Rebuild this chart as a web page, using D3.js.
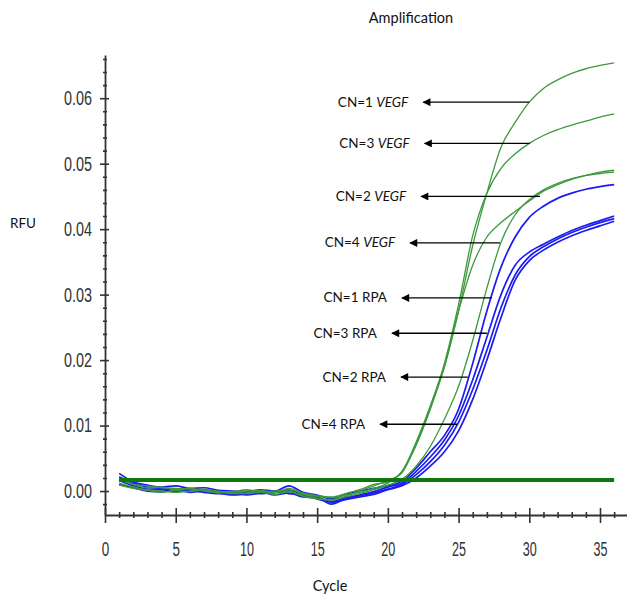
<!DOCTYPE html>
<html>
<head>
<meta charset="utf-8">
<script src="https://cdn.jsdelivr.net/npm/d3@7/dist/d3.min.js"></script>
<style>
  body { margin: 0; background: #fff; }
  .tick text { font-family: "Liberation Sans", Arial, sans-serif; }
</style>
</head>
<body>
<div id="chart"></div>
<script>
// cycle numbers (x categories)
var cycles = [1, 2, 3, 4, 5, 6, 7, 8, 9, 10, 11, 12, 13, 14, 15, 16, 17, 18,
              19, 20, 21, 22, 23, 24, 25, 26, 27, 28, 29, 30, 31, 32, 33, 34, 35, 36];

// RFU, one value per cycle
var vegfCN1 = [0.0018, 0.0010, 0.0008, 0.0005, 0.0004, 0.0003, 0.0002, 0.0000, -0.0002, 0.0000,
               0.0001, -0.0002, -0.0001, -0.0006, -0.0008, -0.0010, -0.0006, -0.0002, 0.0004, 0.0012,
               0.0030, 0.0070, 0.0125, 0.0190, 0.0275, 0.0375, 0.0455, 0.0525, 0.0563, 0.0594,
               0.0615, 0.0628, 0.0638, 0.0645, 0.0650, 0.0654];
var vegfCN3 = [0.0020, 0.0010, 0.0005, 0.0006, 0.0002, 0.0004, 0.0000, -0.0002, -0.0001, 0.0002,
               -0.0001, 0.0000, 0.0002, -0.0003, -0.0007, -0.0009, -0.0004, 0.0002, 0.0010, 0.0014,
               0.0030, 0.0075, 0.0130, 0.0195, 0.0285, 0.0390, 0.0455, 0.0493, 0.0515, 0.0531,
               0.0543, 0.0552, 0.0559, 0.0565, 0.0571, 0.0576];
var vegfCN2 = [0.0012, 0.0006, 0.0002, 0.0000, -0.0002, 0.0000, 0.0003, -0.0001, -0.0004, -0.0003,
               0.0000, -0.0003, 0.0004, -0.0004, -0.0011, -0.0013, -0.0008, 0.0000, 0.0008, 0.0016,
               0.0028, 0.0072, 0.0128, 0.0190, 0.0275, 0.0345, 0.0388, 0.0410, 0.0427, 0.0443,
               0.0458, 0.0468, 0.0476, 0.0482, 0.0487, 0.0490];
var vegfCN4 = [0.0009, 0.0004, 0.0001, -0.0002, 0.0001, -0.0001, 0.0002, -0.0003, -0.0002, -0.0004,
               -0.0002, -0.0005, -0.0001, -0.0008, -0.0012, -0.0014, -0.0009, -0.0004, 0.0002, 0.0009,
               0.0018, 0.0038, 0.0068, 0.0110, 0.0160, 0.0230, 0.0310, 0.0380, 0.0422, 0.0445,
               0.0460, 0.0470, 0.0477, 0.0482, 0.0485, 0.0487];
var rpaCN1 = [0.0027, 0.0014, 0.0009, 0.0006, 0.0008, 0.0004, 0.0005, 0.0001, 0.0000, -0.0001,
              0.0002, 0.0000, 0.0008, -0.0002, -0.0006, -0.0012, -0.0005, 0.0000, 0.0004, 0.0008,
              0.0015, 0.0035, 0.0060, 0.0085, 0.0125, 0.0195, 0.0275, 0.0342, 0.0388, 0.0418,
              0.0435, 0.0447, 0.0455, 0.0461, 0.0465, 0.0468];
var rpaCN3 = [0.0016, 0.0008, 0.0003, 0.0002, -0.0001, 0.0003, 0.0001, -0.0003, -0.0006, -0.0004,
              -0.0001, -0.0006, -0.0003, -0.0009, -0.0010, -0.0016, -0.0010, -0.0006, -0.0001, 0.0006,
              0.0012, 0.0030, 0.0052, 0.0078, 0.0115, 0.0170, 0.0235, 0.0300, 0.0345, 0.0365,
              0.0377, 0.0388, 0.0398, 0.0406, 0.0413, 0.0420];
var rpaCN2 = [0.0010, 0.0005, 0.0000, -0.0001, 0.0002, -0.0002, 0.0000, -0.0002, -0.0005, -0.0002,
              -0.0004, -0.0002, 0.0001, -0.0006, -0.0009, -0.0020, -0.0012, -0.0007, -0.0003, 0.0003,
              0.0010, 0.0025, 0.0045, 0.0070, 0.0105, 0.0155, 0.0215, 0.0280, 0.0330, 0.0358,
              0.0373, 0.0385, 0.0395, 0.0403, 0.0410, 0.0416];
var rpaCN4 = [0.0022, 0.0012, 0.0006, 0.0004, 0.0000, 0.0001, -0.0002, -0.0004, -0.0003, -0.0006,
              -0.0003, -0.0001, -0.0004, -0.0005, -0.0012, -0.0017, -0.0013, -0.0009, -0.0005, 0.0002,
              0.0008, 0.0020, 0.0038, 0.0060, 0.0092, 0.0140, 0.0200, 0.0265, 0.0322, 0.0352,
              0.0368, 0.0380, 0.0390, 0.0398, 0.0405, 0.0412];

var threshold = 0.0017;

var xTicks = [0, 5, 10, 15, 20, 25, 30, 35];
var yTicks = [0.00, 0.01, 0.02, 0.03, 0.04, 0.05, 0.06];

// arrow labels: value = arrow height, head/tail in cycles
var notes = [
  {label: "CN=1 ", gene: "VEGF", value: 0.0594, head: 22.5, tail: 30.0},
  {label: "CN=3 ", gene: "VEGF", value: 0.0531, head: 22.6, tail: 30.05},
  {label: "CN=2 ", gene: "VEGF", value: 0.0450, head: 22.35, tail: 30.76},
  {label: "CN=4 ", gene: "VEGF", value: 0.0379, head: 21.57, tail: 27.93},
  {label: "CN=1 RPA", gene: "", value: 0.0295, head: 21.0, tail: 27.36},
  {label: "CN=3 RPA", gene: "", value: 0.0241, head: 20.29, tail: 27.0},
  {label: "CN=2  RPA", gene: "", value: 0.0174, head: 20.93, tail: 25.66},
  {label: "CN=4 RPA", gene: "", value: 0.0102, head: 19.45, tail: 24.9}
];

var green = "#3c9a3c", blue = "#1c1cf0";
var series = [
  {name: "rpaCN1", color: blue, values: rpaCN1},
  {name: "rpaCN3", color: blue, values: rpaCN3},
  {name: "rpaCN2", color: blue, values: rpaCN2},
  {name: "rpaCN4", color: blue, values: rpaCN4},
  {name: "vegfCN1", color: green, values: vegfCN1},
  {name: "vegfCN3", color: green, values: vegfCN3},
  {name: "vegfCN2", color: green, values: vegfCN2},
  {name: "vegfCN4", color: green, values: vegfCN4}
];

var width = 627, height = 596;

var svg = d3.select("#chart")
    .append("svg")
    .attr("width", width)
    .attr("height", height)
    .style("font-family", "Lato, 'Open Sans', sans-serif");

var x = d3.scaleLinear().domain([0, 37]).range([105, 628.3]);
var y = d3.scaleLinear().domain([-0.00366, 0.0666]).range([515, 55]);

var axisColor = "#333";

// minor ticks
var yMinor = d3.range(-0.002, 0.0661, 0.002).filter(function(d) {
    return Math.abs(Math.round(d * 100) - d * 100) > 1e-6;
});
var xMinor = d3.range(1, 37).filter(function(d) { return d % 5 != 0; });

// Y axis
var gy = svg.append("g").attr("transform", "translate(" + x(0) + ",0)");
gy.call(d3.axisLeft(y).tickValues(yTicks).tickSize(5).tickSizeOuter(0).tickPadding(8)
    .tickFormat(d3.format(".2f")));
gy.selectAll(".tick text").attr("textLength", 28).attr("lengthAdjust", "spacingAndGlyphs");
gy.append("g").call(d3.axisRight(y).tickValues(yTicks).tickSize(4).tickFormat(""))
    .select(".domain").remove();
gy.append("g").call(d3.axisLeft(y).tickValues(yMinor).tickSize(2).tickFormat(""))
    .select(".domain").remove();
gy.append("g").call(d3.axisRight(y).tickValues(yMinor).tickSize(2).tickFormat(""))
    .select(".domain").remove();

// X axis
var gx = svg.append("g").attr("transform", "translate(0," + y.range()[0] + ")");
gx.call(d3.axisBottom(x).tickValues(xTicks).tickSize(8).tickSizeOuter(0).tickPadding(19)
    .tickFormat(d3.format("d")));
gx.selectAll(".tick text")
    .attr("textLength", function(d) { return d < 10 ? 7.5 : 14; })
    .attr("lengthAdjust", "spacingAndGlyphs");
gx.append("g").call(d3.axisTop(x).tickValues(xTicks).tickSize(7).tickFormat(""))
    .select(".domain").remove();
gx.append("g").call(d3.axisBottom(x).tickValues(xMinor).tickSize(3).tickFormat(""))
    .select(".domain").remove();
gx.append("g").call(d3.axisTop(x).tickValues(xMinor).tickSize(3).tickFormat(""))
    .select(".domain").remove();

svg.selectAll(".domain").attr("stroke", axisColor).attr("stroke-width", 1.8);
svg.selectAll(".tick line").attr("stroke", axisColor).attr("stroke-width", 1.6);
svg.selectAll(".tick text")
    .attr("fill", "#333")
    .style("font-size", "20px");

// curves
var line = d3.line()
    .curve(d3.curveMonotoneX)
    .x(function(d, i) { return x(cycles[i]); })
    .y(function(d) { return y(d); });

svg.selectAll(".curve")
    .data(series)
    .enter()
    .append("path")
    .attr("class", "curve")
    .attr("fill", "none")
    .attr("stroke", function(d) { return d.color; })
    .attr("stroke-width", function(d) { return d.color == blue ? 1.7 : 1.3; })
    .attr("d", function(d) { return line(d.values); });

// threshold line
svg.append("line")
    .attr("x1", x(cycles[0]))
    .attr("x2", x(cycles[cycles.length - 1]))
    .attr("y1", y(threshold))
    .attr("y2", y(threshold))
    .attr("stroke", "#0b7a0b")
    .attr("stroke-width", 4);

// arrows
svg.append("defs").append("marker")
    .attr("id", "head")
    .attr("viewBox", "0 0 10 10")
    .attr("refX", 9)
    .attr("refY", 5)
    .attr("markerWidth", 9)
    .attr("markerHeight", 8)
    .attr("markerUnits", "userSpaceOnUse")
    .attr("orient", "auto")
    .append("path")
    .attr("d", "M0,0 L10,5 L0,10 Z")
    .attr("fill", "#000");

svg.selectAll(".arrow")
    .data(notes)
    .enter()
    .append("line")
    .attr("class", "arrow")
    .attr("x1", function(d) { return x(d.tail); })
    .attr("x2", function(d) { return x(d.head); })
    .attr("y1", function(d) { return y(d.value); })
    .attr("y2", function(d) { return y(d.value); })
    .attr("stroke", "#000")
    .attr("stroke-width", 1.3)
    .attr("marker-end", "url(#head)");

var labels = svg.selectAll(".note")
    .data(notes)
    .enter()
    .append("text")
    .attr("class", "note")
    .attr("x", function(d) { return x(d.head) - 15; })
    .attr("y", function(d) { return y(d.value) + 4.5; })
    .attr("text-anchor", "end")
    .style("font-size", "13.5px")
    .attr("fill", "#111");
labels.append("tspan").text(function(d) { return d.label; });
labels.append("tspan").style("font-style", "italic").text(function(d) { return d.gene; });

// titles
svg.append("text")
    .attr("x", 411)
    .attr("y", 23)
    .attr("text-anchor", "middle")
    .style("font-size", "14.5px")
    .attr("fill", "#111")
    .text("Amplification");

svg.append("text")
    .attr("x", 10)
    .attr("y", 228)
    .style("font-size", "13.5px")
    .attr("fill", "#111")
    .text("RFU");

svg.append("text")
    .attr("x", 330)
    .attr("y", 591)
    .attr("text-anchor", "middle")
    .style("font-size", "14.5px")
    .attr("fill", "#111")
    .text("Cycle");
</script>
</body>
</html>
